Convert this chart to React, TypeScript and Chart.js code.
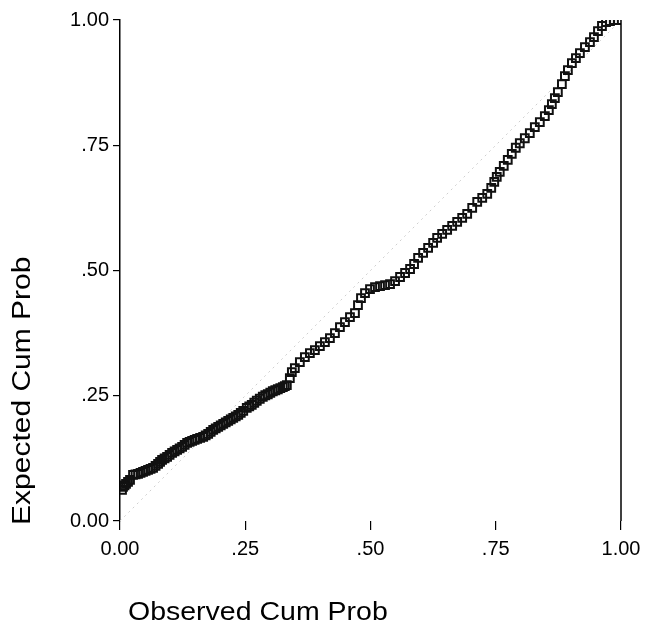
import React, { useEffect, useRef } from "react";
import { Chart, registerables } from "chart.js";

Chart.register(...registerables);

const X_TITLE = "Observed Cum Prob";
const Y_TITLE = "Expected Cum Prob";
const TICK_VALUES = [0, 0.25, 0.5, 0.75, 1];
const TICK_LABELS = ["0.00", ".25", ".50", ".75", "1.00"];

// Observed cumulative probability (x) and expected cumulative probability (y)
const observed = [
  0.004, 0.006, 0.009, 0.012, 0.016, 0.020, 0.026, 0.031, 0.036, 0.041,
  0.046, 0.051, 0.056, 0.061, 0.066, 0.071, 0.076, 0.080, 0.084, 0.089,
  0.094, 0.099, 0.104, 0.109, 0.114, 0.119, 0.124, 0.129, 0.134, 0.139,
  0.144, 0.149, 0.154, 0.160, 0.166, 0.171, 0.176, 0.181, 0.186, 0.191,
  0.196, 0.201, 0.206, 0.211, 0.216, 0.221, 0.226, 0.231, 0.236, 0.241,
  0.246, 0.253, 0.258, 0.263, 0.268, 0.273, 0.279, 0.285, 0.290, 0.295,
  0.300, 0.305, 0.310, 0.315, 0.320, 0.325, 0.329, 0.333,
  0.339, 0.343, 0.349, 0.359,
  0.369, 0.379, 0.389, 0.399, 0.409, 0.419, 0.429, 0.439, 0.449, 0.459,
  0.469, 0.475, 0.481, 0.489, 0.499, 0.509, 0.519, 0.529, 0.539, 0.549,
  0.559, 0.569, 0.579, 0.587, 0.595, 0.605, 0.615, 0.625, 0.633, 0.643,
  0.653, 0.663, 0.673, 0.683, 0.693, 0.703, 0.713, 0.723, 0.733, 0.741,
  0.747, 0.752, 0.758, 0.766, 0.774, 0.782, 0.790, 0.798, 0.808, 0.818,
  0.828, 0.838, 0.848, 0.856, 0.862, 0.868, 0.874, 0.882, 0.888, 0.894,
  0.902, 0.910, 0.918, 0.928, 0.938, 0.946, 0.954, 0.962, 0.970, 0.978,
  0.986, 0.994,
];
const expected = [
  0.062, 0.068, 0.071, 0.074, 0.078, 0.082, 0.092, 0.093, 0.094, 0.096,
  0.098, 0.100, 0.102, 0.104, 0.106, 0.110, 0.114, 0.118, 0.122, 0.125,
  0.128, 0.132, 0.136, 0.139, 0.142, 0.145, 0.148, 0.152, 0.156, 0.158,
  0.160, 0.162, 0.164, 0.166, 0.168, 0.171, 0.174, 0.178, 0.182, 0.185,
  0.188, 0.191, 0.194, 0.197, 0.200, 0.203, 0.206, 0.209, 0.212, 0.216,
  0.220, 0.226, 0.229, 0.232, 0.236, 0.240, 0.244, 0.248, 0.251, 0.253,
  0.256, 0.259, 0.261, 0.263, 0.265, 0.267, 0.269, 0.271,
  0.285, 0.297, 0.305, 0.317,
  0.327, 0.335, 0.341, 0.349, 0.357, 0.365, 0.375, 0.387, 0.397, 0.407,
  0.415, 0.431, 0.445, 0.455, 0.463, 0.467, 0.469, 0.471, 0.473, 0.479,
  0.487, 0.495, 0.503, 0.513, 0.525, 0.535, 0.545, 0.555, 0.565, 0.573,
  0.581, 0.589, 0.597, 0.605, 0.613, 0.625, 0.637, 0.645, 0.653, 0.665,
  0.677, 0.687, 0.697, 0.709, 0.721, 0.733, 0.745, 0.754, 0.764, 0.774,
  0.786, 0.796, 0.808, 0.820, 0.832, 0.844, 0.856, 0.872, 0.888, 0.900,
  0.914, 0.924, 0.934, 0.946, 0.956, 0.966, 0.978, 0.988, 0.996, 0.998,
  1.000, 1.000,
];
const refX = [0, 1];
const refY = [0, 1];

const FONT = '"Liberation Sans", Arial, sans-serif';

const decor = {
  id: "decor",
  afterDraw(chart: any) {
    const { ctx, chartArea } = chart;
    ctx.save();
    ctx.strokeStyle = "#000";
    ctx.lineWidth = 1.5;
    ctx.beginPath();
    ctx.moveTo(chartArea.right, chartArea.top);
    ctx.lineTo(chartArea.right, chartArea.bottom);
    ctx.stroke();

    ctx.fillStyle = "#000";
    ctx.font = `25px ${FONT}`;
    ctx.textBaseline = "alphabetic";
    ctx.textAlign = "left";

    ctx.save();
    ctx.translate(chartArea.left + 8, chart.height - 13);
    ctx.scale(1.14, 1);
    ctx.fillText(X_TITLE, 0, 0);
    ctx.restore();

    ctx.save();
    ctx.translate(30, chartArea.bottom + 4);
    ctx.rotate(-Math.PI / 2);
    ctx.scale(1.2, 1);
    ctx.fillText(Y_TITLE, 0, 0);
    ctx.restore();

    ctx.restore();
  },
};

const tickCb = (v: any) => {
  const i = TICK_VALUES.findIndex((t) => Math.abs(t - Number(v)) < 1e-9);
  return i >= 0 ? TICK_LABELS[i] : "";
};

export default function App() {
  const ref = useRef<HTMLCanvasElement>(null);
  useEffect(() => {
    if (!ref.current) return;
    const points = observed.map((x, i) => ({ x, y: expected[i] }));
    const diag = refX.map((x, i) => ({ x, y: refY[i] }));
    const chart = new Chart(ref.current, {
      type: "scatter",
      data: {
        datasets: [
          {
            data: points,
            pointStyle: "rect",
            pointRadius: 5.5,
            pointBorderWidth: 2,
            borderColor: "#111",
            backgroundColor: "rgba(255,255,255,0)",
            order: 0,
          } as any,
          {
            type: "line",
            data: diag,
            borderColor: "#cfcfcf",
            borderWidth: 1,
            borderDash: [2, 4],
            pointRadius: 0,
            order: 1,
          } as any,
        ],
      },
      options: {
        animation: false,
        responsive: true,
        maintainAspectRatio: false,
        layout: { padding: { top: 20, right: 27, bottom: 0, left: 0 } },
        plugins: {
          legend: { display: false },
          tooltip: { enabled: false },
        },
        scales: {
          x: {
            type: "linear",
            min: 0,
            max: 1,
            afterBuildTicks: (s: any) => {
              s.ticks = TICK_VALUES.map((value) => ({ value }));
            },
            afterFit: (s: any) => {
              s.height = 112;
            },
            border: { display: false },
            grid: {
              drawOnChartArea: false,
              drawTicks: true,
              tickLength: 9,
              color: "#000",
              lineWidth: 1.2,
            },
            ticks: {
              callback: tickCb,
              color: "#000",
              font: { family: FONT, size: 20 },
              padding: 7,
              maxRotation: 0,
            },
          },
          y: {
            type: "linear",
            min: 0,
            max: 1,
            afterBuildTicks: (s: any) => {
              s.ticks = TICK_VALUES.map((value) => ({ value }));
            },
            afterFit: (s: any) => {
              s.width = 120;
            },
            border: { display: true, color: "#000", width: 1.5 },
            grid: {
              drawOnChartArea: false,
              drawTicks: true,
              tickLength: 7,
              color: "#000",
              lineWidth: 1.2,
            },
            ticks: {
              callback: tickCb,
              color: "#000",
              font: { family: FONT, size: 20 },
              padding: 4,
            },
          },
        },
      },
      plugins: [decor],
    });
    return () => chart.destroy();
  }, []);

  return (
    <div style={{ position: "absolute", left: 0, top: 0, width: 648, height: 633, background: "#fff" }}>
      <canvas ref={ref} />
    </div>
  );
}
